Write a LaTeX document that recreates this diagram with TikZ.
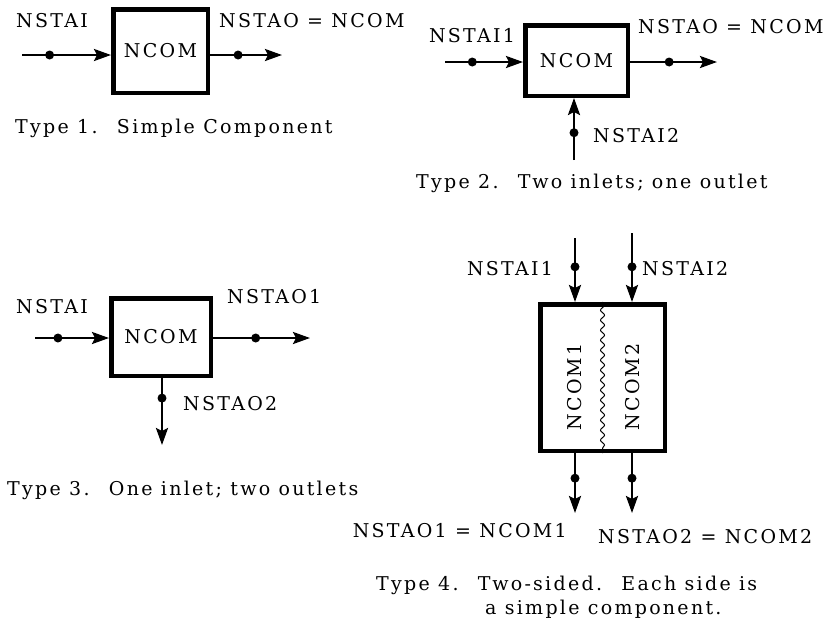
\documentclass[tikz,border=0pt]{standalone}
\usepackage{fontspec}
\setmainfont[LetterSpace=12]{DejaVu Serif}
\usetikzlibrary{arrows.meta,decorations.pathmorphing}

\begin{document}
\begin{tikzpicture}[
        x=1pt, y=-1pt,
        font=\fontsize{19}{22}\selectfont,
        >={Stealth[length=17pt,width=12pt,inset=3pt]},
        box/.style={rectangle, draw, line width=4.5pt, inner sep=0pt, align=center},
        flow/.style={->, line width=2.4pt},
        dot/.style={circle, fill, inner sep=0pt, minimum size=9pt},
        lbl/.style={inner sep=0pt},
        captxt/.style={inner sep=0pt, anchor=base west}
    ]
        \useasboundingbox (0,0) rectangle (836,625);

        % Type 1
        \node[box, minimum width=94.5pt, minimum height=83.5pt] (com1) at (160.5,51) {NCOM};
        \coordinate (in1) at (22,55);
        \coordinate (out1) at (282,55);
        \draw[flow] (in1) -- node[dot, pos=.31] {} (in1 -| com1.west);
        \draw[flow] (out1 -| com1.east) -- node[dot, pos=.39] {} (out1);
        \node[lbl, anchor=base] (nstai1) at (52,27) {NSTAI};
        \node[lbl, anchor=base west] (nstao1) at (219,27) {NSTAO = NCOM};
        \node[captxt] (cap1) at (15,133) {Type 1.~ Simple Component};

        % Type 2
        \node[box, minimum width=102.5pt, minimum height=70.5pt] (com2) at (576.5,60.5) {NCOM};
        \coordinate (in2a) at (445,62);
        \coordinate (in2b) at (574,160);
        \coordinate (out2) at (717,62);
        \draw[flow] (in2a) -- node[dot, pos=.35] {} (in2a -| com2.west);
        \draw[flow] (in2b) -- node[dot, pos=.44] {} (in2b |- com2.south);
        \draw[flow] (out2 -| com2.east) -- node[dot, pos=.45] {} (out2);
        \node[lbl, anchor=base] (nstai2a) at (472,42) {NSTAI1};
        \node[lbl, anchor=base west] (nstai2b) at (593,142) {NSTAI2};
        \node[lbl, anchor=base west] (nstao2) at (638,33) {NSTAO = NCOM};
        \node[captxt] (cap2) at (416,188) {Type 2.~ Two inlets; one outlet};

        % Type 3
        \node[box, minimum width=99.5pt, minimum height=77.5pt] (com3) at (161,337) {NCOM};
        \coordinate (in3) at (35,338);
        \coordinate (out3a) at (310,338);
        \coordinate (out3b) at (162,445);
        \draw[flow] (in3) -- node[dot, pos=.31] {} (in3 -| com3.west);
        \draw[flow] (out3a -| com3.east) -- node[dot, pos=.44] {} (out3a);
        \draw[flow] (out3b |- com3.south) -- node[dot, pos=.3] {} (out3b);
        \node[lbl, anchor=base] (nstai3) at (52,313) {NSTAI};
        \node[lbl, anchor=base west] (nstao3a) at (227,303) {NSTAO1};
        \node[lbl, anchor=base west] (nstao3b) at (183,410) {NSTAO2};
        \node[captxt] (cap3) at (7,495) {Type 3.~ One inlet; two outlets};

        % Type 4
        \node[box, minimum width=124.5pt, minimum height=146.5pt] (com4) at (602.5,377.5) {};
        \draw[decorate, decoration={snake, amplitude=2pt, segment length=10pt}, line width=1pt]
            (com4.north) -- (com4.south);
        \node[lbl, rotate=90] (ncom4a) at (575,387) {NCOM1};
        \node[lbl, rotate=90] (ncom4b) at (633,387) {NCOM2};
        \coordinate (in4a) at (575,238);
        \coordinate (in4b) at (632,233);
        \coordinate (out4a) at (575,513);
        \coordinate (out4b) at (632,513);
        \draw[flow] (in4a) -- node[dot, pos=.45] {} (in4a |- com4.north);
        \draw[flow] (in4b) -- node[dot, pos=.49] {} (in4b |- com4.north);
        \draw[flow] (out4a |- com4.south) -- node[dot, pos=.42] {} (out4a);
        \draw[flow] (out4b |- com4.south) -- node[dot, pos=.42] {} (out4b);
        \node[lbl, anchor=base] (nstai4a) at (510,275) {NSTAI1};
        \node[lbl, anchor=base west] (nstai4b) at (642,275) {NSTAI2};
        \node[lbl, anchor=base east] (nstao4a) at (567,537) {NSTAO1 = NCOM1};
        \node[lbl, anchor=base west] (nstao4b) at (598,543) {NSTAO2 = NCOM2};
        \node[captxt] (cap4a) at (376,590) {Type 4.~ Two-sided.~ Each side is};
        \node[captxt] (cap4b) at (485,614) {a simple component.};
    \end{tikzpicture}
\end{document}
